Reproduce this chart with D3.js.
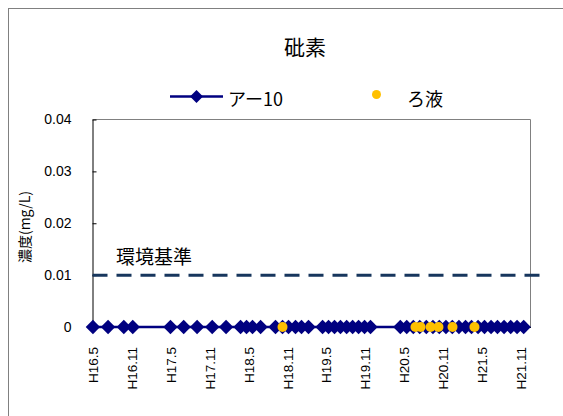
<!DOCTYPE html>
<html><head><meta charset="utf-8">
<script src="https://cdn.jsdelivr.net/npm/d3@7"></script>
<style>
html,body{margin:0;padding:0;background:#fff;}
svg{display:block;}
</style></head>
<body>
<svg id="c" width="563" height="416"></svg>
<script>
// ---- data ----
const title = "砒素";
const yLabel = "濃度(mg/L)";
const standardLabel = "環境基準";
const standardValue = 0.01;
const seriesNames = ["アー10", "ろ液"];
const a10Dates = [
  "2004-05-03","2004-07-13","2004-09-25","2004-11-06",
  "2005-05-02","2005-07-03","2005-09-04","2005-11-14","2006-01-18",
  "2006-03-27","2006-04-24","2006-05-22","2006-06-29","2006-09-07","2006-10-10",
  "2006-11-07","2006-12-10","2007-01-07","2007-02-09","2007-04-16","2007-05-14",
  "2007-06-11","2007-07-09","2007-08-07","2007-09-04","2007-10-02","2007-10-30","2007-11-27",
  "2008-04-15","2008-05-15","2008-06-15","2008-07-15","2008-08-15","2008-09-15",
  "2008-10-15","2008-11-15","2008-12-15","2009-01-15","2009-02-15","2009-03-15",
  "2009-04-15","2009-05-15","2009-06-15","2009-07-15","2009-08-15","2009-09-15",
  "2009-10-15","2009-11-15"
];
const a10Values = [
  0,0,0,0,
  0,0,0,0,0,
  0,0,0,0,0,0,
  0,0,0,0,0,0,
  0,0,0,0,0,0,0,
  0,0,0,0,0,0,
  0,0,0,0,0,0,
  0,0,0,0,0,0,
  0,0
];
const filtDates = ["2006-10-10","2008-06-25","2008-07-19","2008-09-04","2008-10-11","2008-12-16","2009-03-29"];
const filtValues = [0,0,0,0,0,0,0];
const xDomainDates = ["2004-05-01","2009-12-17"];
const xTickDates = ["2004-05-01","2004-11-01","2005-05-01","2005-11-01","2006-05-01","2006-11-01",
  "2007-05-01","2007-11-01","2008-05-01","2008-11-01","2009-05-01","2009-11-01"];
const xTickLabels = ["H16.5","H16.11","H17.5","H17.11","H18.5","H18.11",
  "H19.5","H19.11","H20.5","H20.11","H21.5","H21.11"];
const yTicks = [0, 0.01, 0.02, 0.03, 0.04];
const yTickLabels = ["0", "0.01", "0.02", "0.03", "0.04"];

// ---- layout ----
const parse = d3.utcParse("%Y-%m-%d");
const svg = d3.select("#c");
const L = 92.5, R = 530.5, T = 119.5, B = 327;
const x = d3.scaleUtc().domain(xDomainDates.map(parse)).range([L, R]);
const y = d3.scaleLinear().domain([0, 0.04]).range([B, T]);
const navy = "#000080", orange = "#FFC000";
const cjk = "'Noto Sans CJK JP', sans-serif";
const latin = "'Liberation Sans', Arial, sans-serif";

// outer frame
svg.append("rect").attr("x", 8.5).attr("y", 8.5).attr("width", 620).attr("height", 460)
  .attr("fill", "#fff").attr("stroke", "#808080").attr("stroke-width", 1);

// plot area border (top/right gray)
svg.append("path").attr("d", `M${L},${T}H${R}V${B}`).attr("fill", "none")
  .attr("stroke", "#808080").attr("stroke-width", 1);

// title
svg.append("text").attr("x", 305).attr("y", 55).attr("text-anchor", "middle")
  .attr("font-family", cjk).attr("font-size", 21).attr("fill", "#000").text(title);

// legend
const diamond = (cx, cy, r) => `M${cx},${cy - r}L${cx + r},${cy}L${cx},${cy + r}L${cx - r},${cy}Z`;
const lg = svg.append("g");
lg.append("line").attr("x1", 170).attr("x2", 223).attr("y1", 96.5).attr("y2", 96.5)
  .attr("stroke", navy).attr("stroke-width", 2.5);
lg.append("path").attr("d", diamond(196.5, 96.5, 6.5)).attr("fill", navy);
lg.append("text").attr("x", 228).attr("y", 106).attr("font-family", cjk).attr("font-size", 18)
  .attr("fill", "#000").text(seriesNames[0]);
lg.append("circle").attr("cx", 376.5).attr("cy", 94.5).attr("r", 4.5).attr("fill", orange);
lg.append("text").attr("x", 407).attr("y", 106).attr("font-family", cjk).attr("font-size", 18)
  .attr("fill", "#000").text(seriesNames[1]);

// y axis
const yAxis = d3.axisLeft(y).tickValues(yTicks).tickSizeInner(-4).tickSizeOuter(0)
  .tickPadding(21).tickFormat((d, i) => yTickLabels[i]);
const gy = svg.append("g").attr("transform", `translate(${L},0)`).call(yAxis);
gy.select(".domain").attr("stroke", "#000").attr("stroke-width", 1);
gy.selectAll(".tick line").attr("stroke", "#000");
gy.selectAll(".tick text").attr("font-family", latin).attr("font-size", 14).attr("fill", "#000");

// y label
svg.append("text").attr("transform", "translate(30,227) rotate(-90)").attr("text-anchor", "middle")
  .attr("font-family", cjk).attr("font-size", 14).attr("fill", "#000").text(yLabel);

// x axis
const xAxis = d3.axisBottom(x).tickValues(xTickDates.map(parse)).tickSize(0).tickSizeOuter(0)
  .tickFormat((d, i) => xTickLabels[i]);
const gx = svg.append("g").attr("transform", `translate(0,${B})`).call(xAxis);
gx.select(".domain").attr("stroke", "#000");
gx.selectAll(".tick text").attr("font-family", latin).attr("font-size", 13.5).attr("fill", "#000")
  .attr("text-anchor", "end").attr("dy", null).attr("y", 0)
  .attr("dominant-baseline", "central")
  .attr("transform", "translate(0.5,20) rotate(-90)");

// standard dashed line
svg.append("line").attr("x1", L).attr("x2", 543).attr("y1", y(standardValue)).attr("y2", y(standardValue))
  .attr("stroke", "#17365D").attr("stroke-width", 3).attr("stroke-dasharray", "15,9");
svg.append("text").attr("x", 116).attr("y", 264).attr("font-family", cjk).attr("font-size", 19)
  .attr("fill", "#000").text(standardLabel);

// series アー10
const a10 = a10Dates.map((d, i) => ({ d: parse(d), v: a10Values[i] }));
svg.append("path").datum(a10)
  .attr("d", d3.line().x(p => x(p.d)).y(p => y(p.v)))
  .attr("fill", "none").attr("stroke", navy).attr("stroke-width", 2.5);
svg.append("g").selectAll("path").data(a10).join("path")
  .attr("d", p => diamond(x(p.d), y(p.v), 7.2)).attr("fill", navy);

// series ろ液
const filt = filtDates.map((d, i) => ({ d: parse(d), v: filtValues[i] }));
svg.append("g").selectAll("circle").data(filt).join("circle")
  .attr("cx", p => x(p.d)).attr("cy", p => y(p.v)).attr("r", 5).attr("fill", orange);
</script>
</body></html>
